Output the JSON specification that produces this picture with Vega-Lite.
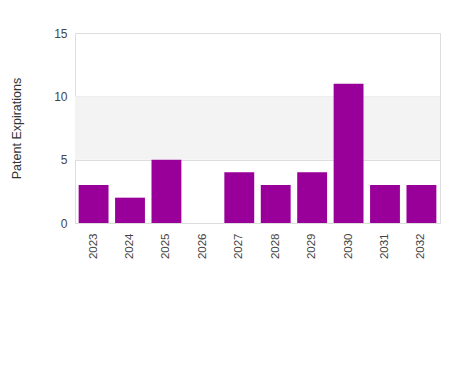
{
  "$schema": "https://vega.github.io/schema/vega-lite/v6.json",
  "autosize": "none",
  "width": 365,
  "height": 190,
  "padding": {"left": 75, "top": 33, "right": 10, "bottom": 152},
  "config": {
    "font": "Liberation Sans",
    "view": {"stroke": "#dddddd", "strokeWidth": 1},
    "axis": {"labelFont": "Liberation Sans", "titleFont": "Liberation Sans"}
  },
  "datasets": {
    "bars": [
      {"year": "2023", "count": 3},
      {"year": "2024", "count": 2},
      {"year": "2025", "count": 5},
      {"year": "2026", "count": 0},
      {"year": "2027", "count": 4},
      {"year": "2028", "count": 3},
      {"year": "2029", "count": 4},
      {"year": "2030", "count": 11},
      {"year": "2031", "count": 3},
      {"year": "2032", "count": 3}
    ],
    "band": [{"lo": 5, "hi": 10}]
  },
  "layer": [
    {
      "data": {"name": "band"},
      "mark": {"type": "rect", "color": "#f3f3f3", "x": 0, "x2": {"expr": "width"}},
      "encoding": {
        "y": {"field": "lo", "type": "quantitative", "scale": {"domain": [0, 15]}},
        "y2": {"field": "hi"}
      }
    },
    {
      "data": {"name": "bars"},
      "mark": {"type": "bar", "color": "#990099"},
      "encoding": {
        "x": {
          "field": "year",
          "type": "nominal",
          "sort": null,
          "scale": {"paddingInner": 0.18, "paddingOuter": 0.1},
          "axis": {
            "title": null,
            "labelAngle": -90,
            "labelFontSize": 11.5,
            "labelColor": "#444444",
            "labelPadding": 10,
            "ticks": false,
            "domain": false
          }
        },
        "y": {
          "field": "count",
          "type": "quantitative",
          "scale": {"domain": [0, 15]},
          "axis": {
            "title": "Patent Expirations",
            "titleFontSize": 12.5,
            "titleFontWeight": "normal",
            "titleColor": "#333333",
            "titlePadding": 30,
            "values": [0, 5, 10, 15],
            "labelFontSize": 12,
            "labelColor": "#444444",
            "labelPadding": 8,
            "ticks": false,
            "domain": false,
            "grid": true,
            "gridColor": "#dddddd"
          }
        }
      }
    }
  ]
}
